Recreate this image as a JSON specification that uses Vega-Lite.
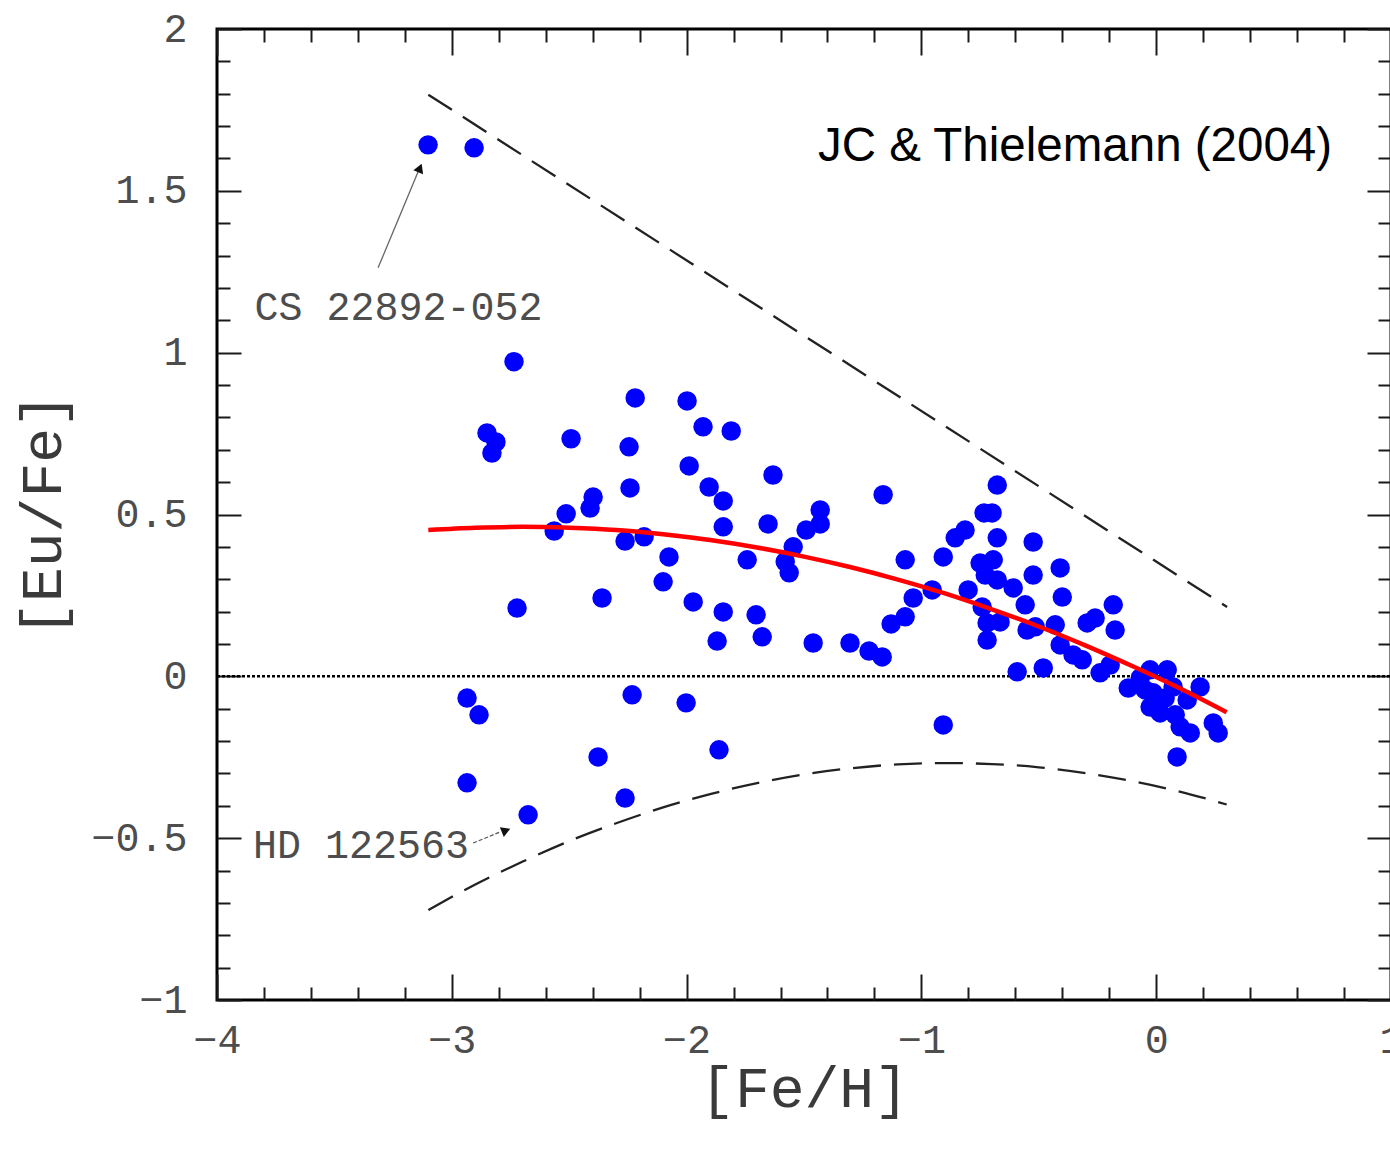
{
  "$schema": "https://vega.github.io/schema/vega-lite/v6.json",
  "width": 1174,
  "height": 971,
  "autosize": {"type": "none"},
  "padding": {"left": 217, "top": 29, "right": 0, "bottom": 151},
  "background": "white",
  "config": {
    "view": {"stroke": "#000000", "strokeWidth": 3},
    "axis": {"domain": false, "grid": false, "tickColor": "#1a1a1a", "tickWidth": 2}
  },
  "datasets": {
    "stars": [
      {"feh": -3.101, "eufe": 1.642}, {"feh": -2.905, "eufe": 1.633}, {"feh": -2.735, "eufe": 0.972},
      {"feh": -2.85, "eufe": 0.752}, {"feh": -2.812, "eufe": 0.724}, {"feh": -2.829, "eufe": 0.69},
      {"feh": -2.492, "eufe": 0.734}, {"feh": -2.219, "eufe": 0.86}, {"feh": -1.998, "eufe": 0.851},
      {"feh": -1.93, "eufe": 0.771}, {"feh": -1.81, "eufe": 0.758}, {"feh": -2.245, "eufe": 0.709},
      {"feh": -1.989, "eufe": 0.65}, {"feh": -1.632, "eufe": 0.622}, {"feh": -2.241, "eufe": 0.582},
      {"feh": -1.904, "eufe": 0.585}, {"feh": -1.844, "eufe": 0.542}, {"feh": -2.398, "eufe": 0.554},
      {"feh": -2.411, "eufe": 0.52}, {"feh": -2.513, "eufe": 0.502}, {"feh": -2.564, "eufe": 0.449},
      {"feh": -2.262, "eufe": 0.418}, {"feh": -2.181, "eufe": 0.431}, {"feh": -1.844, "eufe": 0.462},
      {"feh": -1.653, "eufe": 0.471}, {"feh": -1.431, "eufe": 0.514}, {"feh": -1.431, "eufe": 0.471},
      {"feh": -1.491, "eufe": 0.452}, {"feh": -1.546, "eufe": 0.4}, {"feh": -1.58, "eufe": 0.354},
      {"feh": -1.563, "eufe": 0.32}, {"feh": -2.075, "eufe": 0.369}, {"feh": -1.742, "eufe": 0.36},
      {"feh": -2.1, "eufe": 0.292}, {"feh": -2.36, "eufe": 0.242}, {"feh": -2.722, "eufe": 0.211},
      {"feh": -1.972, "eufe": 0.23}, {"feh": -1.844, "eufe": 0.199}, {"feh": -1.704, "eufe": 0.19},
      {"feh": -1.87, "eufe": 0.109}, {"feh": -1.678, "eufe": 0.122}, {"feh": -1.461, "eufe": 0.103},
      {"feh": -1.304, "eufe": 0.103}, {"feh": -1.223, "eufe": 0.078}, {"feh": -1.167, "eufe": 0.06},
      {"feh": -1.163, "eufe": 0.561}, {"feh": -1.069, "eufe": 0.36}, {"feh": -1.035, "eufe": 0.242},
      {"feh": -1.069, "eufe": 0.184}, {"feh": -1.129, "eufe": 0.162}, {"feh": -0.954, "eufe": 0.267},
      {"feh": -0.907, "eufe": 0.369}, {"feh": -0.856, "eufe": 0.428}, {"feh": -0.814, "eufe": 0.452},
      {"feh": -0.677, "eufe": 0.591}, {"feh": -0.733, "eufe": 0.505}, {"feh": -0.699, "eufe": 0.505},
      {"feh": -0.677, "eufe": 0.428}, {"feh": -0.75, "eufe": 0.35}, {"feh": -0.694, "eufe": 0.36},
      {"feh": -0.728, "eufe": 0.313}, {"feh": -0.677, "eufe": 0.298}, {"feh": -0.609, "eufe": 0.273},
      {"feh": -0.801, "eufe": 0.267}, {"feh": -0.741, "eufe": 0.214}, {"feh": -0.72, "eufe": 0.165},
      {"feh": -0.665, "eufe": 0.168}, {"feh": -0.72, "eufe": 0.112}, {"feh": -0.558, "eufe": 0.221},
      {"feh": -0.524, "eufe": 0.415}, {"feh": -0.524, "eufe": 0.313}, {"feh": -0.409, "eufe": 0.335},
      {"feh": -0.4, "eufe": 0.245}, {"feh": -0.55, "eufe": 0.143}, {"feh": -0.515, "eufe": 0.153},
      {"feh": -0.43, "eufe": 0.159}, {"feh": -0.409, "eufe": 0.097}, {"feh": -0.354, "eufe": 0.066},
      {"feh": -0.315, "eufe": 0.051}, {"feh": -0.592, "eufe": 0.014}, {"feh": -0.481, "eufe": 0.026},
      {"feh": -0.294, "eufe": 0.165}, {"feh": -0.26, "eufe": 0.18}, {"feh": -0.183, "eufe": 0.221},
      {"feh": -0.175, "eufe": 0.143}, {"feh": -0.239, "eufe": 0.011}, {"feh": -0.119, "eufe": -0.036},
      {"feh": -0.026, "eufe": 0.02}, {"feh": 0.047, "eufe": 0.02}, {"feh": -0.013, "eufe": -0.051},
      {"feh": -0.026, "eufe": -0.095}, {"feh": 0.017, "eufe": -0.113}, {"feh": 0.072, "eufe": -0.033},
      {"feh": 0.132, "eufe": -0.073}, {"feh": 0.187, "eufe": -0.033}, {"feh": 0.102, "eufe": -0.156},
      {"feh": 0.145, "eufe": -0.175}, {"feh": 0.089, "eufe": -0.249}, {"feh": 0.243, "eufe": -0.144},
      {"feh": 0.264, "eufe": -0.175}, {"feh": -0.907, "eufe": -0.15}, {"feh": -2.935, "eufe": -0.067},
      {"feh": -2.884, "eufe": -0.119}, {"feh": -2.935, "eufe": -0.329}, {"feh": -2.675, "eufe": -0.428},
      {"feh": -2.377, "eufe": -0.249}, {"feh": -2.232, "eufe": -0.057}, {"feh": -2.262, "eufe": -0.376},
      {"feh": -2.002, "eufe": -0.082}, {"feh": -1.862, "eufe": -0.227}, {"feh": -0.068, "eufe": -0.005},
      {"feh": 0.038, "eufe": -0.067}, {"feh": 0.081, "eufe": -0.119}, {"feh": -0.047, "eufe": -0.042},
      {"feh": -0.196, "eufe": 0.035}
    ],
    "fit": [
      {"feh": -3.1, "eufe": 0.452}, {"feh": -2.9, "eufe": 0.459}, {"feh": -2.7, "eufe": 0.462},
      {"feh": -2.5, "eufe": 0.459}, {"feh": -2.3, "eufe": 0.452}, {"feh": -2.1, "eufe": 0.439},
      {"feh": -1.9, "eufe": 0.421}, {"feh": -1.7, "eufe": 0.398}, {"feh": -1.5, "eufe": 0.37},
      {"feh": -1.3, "eufe": 0.337}, {"feh": -1.1, "eufe": 0.299}, {"feh": -0.9, "eufe": 0.256},
      {"feh": -0.7, "eufe": 0.207}, {"feh": -0.5, "eufe": 0.154}, {"feh": -0.3, "eufe": 0.095},
      {"feh": -0.1, "eufe": 0.031}, {"feh": 0.1, "eufe": -0.037}, {"feh": 0.3, "eufe": -0.111}
    ],
    "upper": [
      {"feh": -3.1, "eufe": 1.797}, {"feh": 0.302, "eufe": 0.214}
    ],
    "lower": [
      {"feh": -3.1, "eufe": -0.722}, {"feh": -2.9, "eufe": -0.643}, {"feh": -2.7, "eufe": -0.573},
      {"feh": -2.5, "eufe": -0.509}, {"feh": -2.3, "eufe": -0.454}, {"feh": -2.1, "eufe": -0.405},
      {"feh": -1.9, "eufe": -0.364}, {"feh": -1.7, "eufe": -0.33}, {"feh": -1.5, "eufe": -0.303},
      {"feh": -1.3, "eufe": -0.284}, {"feh": -1.1, "eufe": -0.272}, {"feh": -0.9, "eufe": -0.268},
      {"feh": -0.7, "eufe": -0.271}, {"feh": -0.5, "eufe": -0.281}, {"feh": -0.3, "eufe": -0.299},
      {"feh": -0.1, "eufe": -0.324}, {"feh": 0.1, "eufe": -0.356}, {"feh": 0.3, "eufe": -0.396}
    ],
    "zero": [{"feh": -4, "feh2": 1, "eufe": 0}],
    "names": [
      {"feh": -3.84, "eufe": 1.101, "label": "CS 22892-052"},
      {"feh": -3.847, "eufe": -0.561, "label": "HD 122563"}
    ],
    "credit": [{"feh": -1.44, "eufe": 1.592, "label": "JC & Thielemann (2004)"}],
    "arrowCS": [{"feh": -3.314, "eufe": 1.262, "feh2": -3.14, "eufe2": 1.565}],
    "headCS": [{"feh": -3.138, "eufe": 1.566}],
    "arrowHD": [{"feh": -2.909, "eufe": -0.515, "feh2": -2.794, "eufe2": -0.481}],
    "headHD": [{"feh": -2.775, "eufe": -0.478}]
  },
  "resolve": {"axis": {"x": "independent", "y": "independent"}},
  "layer": [
    {
      "data": {"name": "zero"},
      "mark": {"type": "rule", "color": "#000000", "strokeWidth": 2.5, "strokeDash": [3, 2]},
      "encoding": {
        "x": {"field": "feh", "type": "quantitative", "scale": {"domain": [-4, 1], "nice": false, "zero": false},
          "axis": {"orient": "top", "values": [-4, -3, -2, -1, 0, 1], "tickSize": -26, "labels": false, "title": null}},
        "x2": {"field": "feh2"},
        "y": {"field": "eufe", "type": "quantitative", "scale": {"domain": [-1, 2], "nice": false, "zero": false},
          "axis": {"orient": "right", "values": [-1, -0.5, 0, 0.5, 1, 1.5, 2], "tickSize": -24, "labels": false, "title": null}}
      }
    },
    {
      "data": {"name": "upper"},
      "mark": {"type": "line", "color": "#222222", "strokeWidth": 2.3, "strokeDash": [28, 13]},
      "encoding": {
        "x": {"field": "feh", "type": "quantitative", "scale": {"domain": [-4, 1], "nice": false, "zero": false},
          "axis": {"orient": "top", "values": [-3.8, -3.6, -3.4, -3.2, -2.8, -2.6, -2.4, -2.2, -1.8, -1.6, -1.4, -1.2, -0.8, -0.6, -0.4, -0.2, 0.2, 0.4, 0.6, 0.8], "tickSize": -13, "labels": false, "title": null}},
        "y": {"field": "eufe", "type": "quantitative", "scale": {"domain": [-1, 2], "nice": false, "zero": false},
          "axis": {"orient": "right", "values": [-0.9, -0.8, -0.7, -0.6, -0.4, -0.3, -0.2, -0.1, 0.1, 0.2, 0.3, 0.4, 0.6, 0.7, 0.8, 0.9, 1.1, 1.2, 1.3, 1.4, 1.6, 1.7, 1.8, 1.9], "tickSize": -13, "labels": false, "title": null}}
      }
    },
    {
      "data": {"name": "lower"},
      "mark": {"type": "line", "color": "#222222", "strokeWidth": 2.3, "strokeDash": [28, 13], "interpolate": "monotone"},
      "encoding": {
        "x": {"field": "feh", "type": "quantitative", "scale": {"domain": [-4, 1], "nice": false, "zero": false},
          "axis": {"orient": "bottom", "values": [-3.8, -3.6, -3.4, -3.2, -2.8, -2.6, -2.4, -2.2, -1.8, -1.6, -1.4, -1.2, -0.8, -0.6, -0.4, -0.2, 0.2, 0.4, 0.6, 0.8], "tickSize": -13, "labels": false, "title": null}},
        "y": {"field": "eufe", "type": "quantitative", "scale": {"domain": [-1, 2], "nice": false, "zero": false},
          "axis": {"orient": "left", "values": [-0.9, -0.8, -0.7, -0.6, -0.4, -0.3, -0.2, -0.1, 0.1, 0.2, 0.3, 0.4, 0.6, 0.7, 0.8, 0.9, 1.1, 1.2, 1.3, 1.4, 1.6, 1.7, 1.8, 1.9], "tickSize": -13, "labels": false, "title": null}}
      }
    },
    {
      "data": {"name": "stars"},
      "mark": {"type": "circle", "color": "#0000ff", "opacity": 1, "size": 380},
      "encoding": {
        "x": {"field": "feh", "type": "quantitative", "scale": {"domain": [-4, 1], "nice": false, "zero": false},
          "axis": {"orient": "bottom", "values": [-4, -3, -2, -1, 0, 1], "tickSize": -26, "format": "~g",
            "labelFont": "Liberation Mono", "labelFontSize": 40, "labelColor": "#4d4d4d", "labelPadding": 46, "labelFlush": false,
            "title": "[Fe/H]", "titleFont": "Liberation Mono", "titleFontSize": 58, "titleFontWeight": "normal", "titleColor": "#3a3a3a", "titlePadding": 0}},
        "y": {"field": "eufe", "type": "quantitative", "scale": {"domain": [-1, 2], "nice": false, "zero": false},
          "axis": {"orient": "left", "values": [-1, -0.5, 0, 0.5, 1, 1.5, 2], "tickSize": -24, "format": "~g",
            "labelFont": "Liberation Mono", "labelFontSize": 40, "labelColor": "#4d4d4d", "labelPadding": 54, "labelFlush": false,
            "title": "[Eu/Fe]", "titleFont": "Liberation Mono", "titleFontSize": 58, "titleFontWeight": "normal", "titleColor": "#3a3a3a", "titlePadding": 18}}
      }
    },
    {
      "data": {"name": "fit"},
      "mark": {"type": "line", "color": "#ff0000", "strokeWidth": 4.5, "interpolate": "monotone"},
      "encoding": {
        "x": {"field": "feh", "type": "quantitative", "scale": {"domain": [-4, 1], "nice": false, "zero": false}, "axis": null},
        "y": {"field": "eufe", "type": "quantitative", "scale": {"domain": [-1, 2], "nice": false, "zero": false}, "axis": null}
      }
    },
    {
      "data": {"name": "arrowCS"},
      "mark": {"type": "rule", "color": "#666666", "strokeWidth": 1.3},
      "encoding": {
        "x": {"field": "feh", "type": "quantitative", "scale": {"domain": [-4, 1], "nice": false, "zero": false}, "axis": null},
        "y": {"field": "eufe", "type": "quantitative", "scale": {"domain": [-1, 2], "nice": false, "zero": false}, "axis": null},
        "x2": {"field": "feh2"},
        "y2": {"field": "eufe2"}
      }
    },
    {
      "data": {"name": "arrowHD"},
      "mark": {"type": "rule", "color": "#555555", "strokeWidth": 1.3, "strokeDash": [4, 2]},
      "encoding": {
        "x": {"field": "feh", "type": "quantitative", "scale": {"domain": [-4, 1], "nice": false, "zero": false}, "axis": null},
        "y": {"field": "eufe", "type": "quantitative", "scale": {"domain": [-1, 2], "nice": false, "zero": false}, "axis": null},
        "x2": {"field": "feh2"},
        "y2": {"field": "eufe2"}
      }
    },
    {
      "data": {"name": "headCS"},
      "mark": {"type": "point", "shape": "triangle", "filled": true, "color": "#111111", "opacity": 1, "size": 110, "angle": 22},
      "encoding": {
        "x": {"field": "feh", "type": "quantitative", "scale": {"domain": [-4, 1], "nice": false, "zero": false}, "axis": null},
        "y": {"field": "eufe", "type": "quantitative", "scale": {"domain": [-1, 2], "nice": false, "zero": false}, "axis": null}
      }
    },
    {
      "data": {"name": "headHD"},
      "mark": {"type": "point", "shape": "triangle", "filled": true, "color": "#111111", "opacity": 1, "size": 110, "angle": 68},
      "encoding": {
        "x": {"field": "feh", "type": "quantitative", "scale": {"domain": [-4, 1], "nice": false, "zero": false}, "axis": null},
        "y": {"field": "eufe", "type": "quantitative", "scale": {"domain": [-1, 2], "nice": false, "zero": false}, "axis": null}
      }
    },
    {
      "data": {"name": "names"},
      "mark": {"type": "text", "font": "Liberation Mono", "fontSize": 40, "color": "#4d4d4d", "align": "left", "baseline": "alphabetic"},
      "encoding": {
        "x": {"field": "feh", "type": "quantitative", "scale": {"domain": [-4, 1], "nice": false, "zero": false}, "axis": null},
        "y": {"field": "eufe", "type": "quantitative", "scale": {"domain": [-1, 2], "nice": false, "zero": false}, "axis": null},
        "text": {"field": "label"}
      }
    },
    {
      "data": {"name": "credit"},
      "mark": {"type": "text", "font": "Liberation Sans", "fontSize": 47.5, "color": "#000000", "align": "left", "baseline": "alphabetic"},
      "encoding": {
        "x": {"field": "feh", "type": "quantitative", "scale": {"domain": [-4, 1], "nice": false, "zero": false}, "axis": null},
        "y": {"field": "eufe", "type": "quantitative", "scale": {"domain": [-1, 2], "nice": false, "zero": false}, "axis": null},
        "text": {"field": "label"}
      }
    }
  ]
}
